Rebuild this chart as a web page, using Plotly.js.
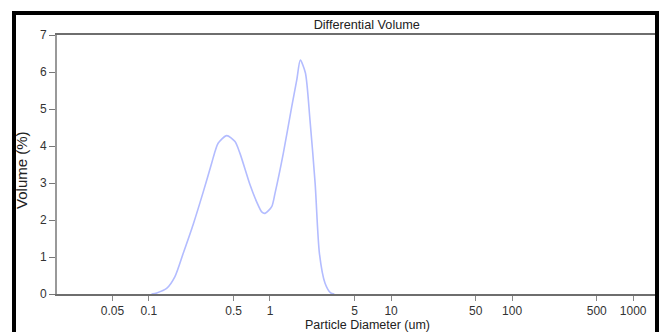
<!DOCTYPE html>
<html>
<head>
<meta charset="utf-8">
<script src="https://cdn.plot.ly/plotly-3.0.1.min.js"></script>
<style>
  html, body { margin:0; padding:0; background:#fff; overflow:hidden; }
  #wrap { position:relative; width:662px; height:332px; }
  #chart { position:absolute; left:0; top:0; width:662px; height:332px; }
  #frame { position:absolute; left:12px; top:11px; width:647px; height:340px; box-sizing:border-box; border:4px solid #000; pointer-events:none; }
</style>
</head>
<body>
<div id="wrap"><div id="chart"></div><div id="frame"></div></div>
<script>
// Particle diameter (um) and differential volume (%)
const diameter = [0.105, 0.116, 0.140, 0.164, 0.192, 0.232, 0.281, 0.330, 0.352, 0.374, 0.439, 0.514, 0.565, 0.684, 0.776, 0.854, 0.910, 1.033, 1.10, 1.288, 1.511, 1.663, 1.78, 1.96, 2.14, 2.36, 2.56, 2.85, 3.17, 3.4];
const volume   = [0,     0.03,  0.15,  0.47,  1.10,  1.88,  2.76,  3.54,  3.86,  4.08,  4.28,  4.12,  3.80,  2.95,  2.49,  2.22,  2.18,  2.36,  2.72, 3.80,  5.06,  5.78,  6.32, 5.98, 4.70, 2.99, 1.10, 0.29, 0.03, 0];
const xTickVals = [0.05, 0.1, 0.5, 1, 5, 10, 50, 100, 500, 1000];
const xTickText = ['0.05', '0.1', '0.5', '1', '5', '10', '50', '100', '500', '1000'];
const yTickVals = [0, 1, 2, 3, 4, 5, 6, 7];

const fam = 'Liberation Sans, Arial, sans-serif';
const font = {family: fam, size: 12, color: '#333'};

Plotly.newPlot('chart', [{
  x: diameter, y: volume, type: 'scatter', mode: 'lines',
  line: {color: '#b3bcff', width: 1.6, shape: 'spline', smoothing: 0.7},
  hoverinfo: 'x+y'
}], {
  width: 662, height: 332,
  margin: {l: 57, r: 7, t: 35, b: 38},
  paper_bgcolor: '#fff', plot_bgcolor: '#fff',
  showlegend: false,
  font: font,
  title: {text: 'Differential Volume', font: {family: fam, size: 12.7, color: '#222'},
          x: 0.518, xref: 'paper', xanchor: 'center', y: 0.927, yref: 'container', yanchor: 'middle'},
  xaxis: {type: 'log', range: [Math.log10(0.0174), Math.log10(1515)],
          tickvals: xTickVals, ticktext: xTickText,
          showgrid: false, zeroline: false,
          showline: true, linecolor: '#6e6e6e', linewidth: 2, mirror: true,
          ticks: 'outside', ticklen: 5, tickwidth: 1, tickcolor: '#888',
          tickfont: font},
  yaxis: {range: [0, 7], tickvals: yTickVals,
          showgrid: false, zeroline: false,
          showline: true, linecolor: '#999', linewidth: 2,
          ticks: 'outside', ticklen: 6, tickwidth: 1, tickcolor: '#777',
          tickfont: font},
  annotations: [
    {text: 'Particle Diameter (um)', xref: 'paper', yref: 'paper', x: 0.52, y: -0.1185,
     xanchor: 'center', yanchor: 'middle', showarrow: false, borderpad: 0,
     font: {family: fam, size: 12.5, color: '#222'}},
    {text: 'Volume (%)', xref: 'paper', yref: 'paper', x: -0.0585, y: 0.479, textangle: -90,
     xanchor: 'center', yanchor: 'middle', showarrow: false, font: {family: fam, size: 15, color: '#222'}}
  ]
}, {displayModeBar: false, staticPlot: true});
</script>
</body>
</html>
